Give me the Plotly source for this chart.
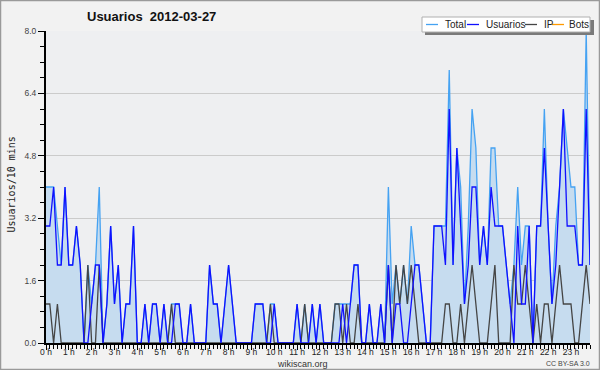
import plotly.graph_objects as go

# 10-minute slots across the day (slot index 0..143)
slots = list(range(144))

hour_ticks = [0, 6, 12, 18, 24, 30, 36, 42, 48, 54, 60, 66, 72, 78, 84, 90,
              96, 102, 108, 114, 120, 126, 132, 138]
hour_labels = ["0 h", "1 h", "2 h", "3 h", "4 h", "5 h", "6 h", "7 h", "8 h", "9 h",
               "10 h", "11 h", "12 h", "13 h", "14 h", "15 h", "16 h", "17 h", "18 h",
               "19 h", "20 h", "21 h", "22 h", "23 h"]

y_ticks = [0, 1.6, 3.2, 4.8, 6.4, 8.0]
y_labels = ["0.0", "1.6", "3.2", "4.8", "6.4", "8.0"]

usuarios = [3, 3, 4, 2, 2, 4, 2, 2, 3, 2, 0, 0, 1, 2, 2, 0, 1, 3, 1, 2, 0, 1, 1, 3, 0,
            0, 1, 0, 1, 1, 0, 1, 0, 0, 1, 1, 0, 0, 1, 0, 0, 0, 0, 2, 1, 1, 0, 1, 2, 1,
            0, 0, 0, 0, 0, 1, 1, 1, 0, 0, 1, 0, 0, 0, 0, 0, 1, 0, 0, 0, 1, 0, 1, 0, 0,
            0, 0, 0, 1, 0, 1, 2, 2, 0, 0, 1, 0, 0, 1, 0, 2, 0, 1, 1, 0, 0, 1, 2, 2, 1,
            0, 0, 3, 3, 3, 2, 6, 2, 5, 3, 1, 2, 4, 4, 2, 3, 2, 4, 3, 3, 3, 2, 1, 0, 3,
            1, 1, 3, 0, 3, 3, 5, 3, 1, 2, 4, 6, 3, 3, 3, 2, 2, 6, 2]

ip = [1, 1, 0, 1, 0, 0, 0, 0, 0, 0, 0, 2, 0, 0, 2, 0, 0, 0, 0, 0, 0, 0, 0, 0, 0,
      0, 0, 0, 0, 0, 0, 0, 0, 1, 0, 0, 0, 0, 0, 0, 0, 0, 0, 0, 0, 0, 0, 0, 0, 0,
      0, 0, 0, 0, 0, 0, 0, 0, 0, 1, 0, 0, 0, 0, 0, 0, 0, 0, 1, 0, 0, 0, 0, 0, 0,
      0, 1, 1, 0, 1, 0, 0, 1, 0, 0, 0, 0, 0, 0, 0, 2, 0, 2, 1, 2, 1, 2, 1, 0, 0,
      0, 0, 0, 0, 0, 1, 1, 0, 0, 1, 0, 1, 2, 1, 0, 0, 0, 1, 2, 0, 0, 0, 0, 2, 1,
      1, 2, 1, 0, 1, 0, 1, 1, 0, 1, 2, 1, 1, 1, 0, 0, 1, 2, 1]

total = [4, 4, 4, 3, 2, 4, 2, 2, 3, 2, 0, 2, 1, 2, 4, 0, 1, 3, 1, 2, 0, 1, 1, 3, 0,
         0, 1, 0, 1, 1, 0, 1, 0, 1, 1, 1, 0, 0, 1, 0, 0, 0, 0, 2, 1, 1, 0, 1, 2, 1,
         0, 0, 0, 0, 0, 1, 1, 1, 0, 1, 1, 0, 0, 0, 0, 0, 1, 0, 1, 0, 1, 0, 1, 0, 0,
         0, 1, 1, 1, 1, 1, 2, 2, 0, 0, 1, 0, 0, 1, 0, 4, 1, 2, 1, 2, 1, 3, 2, 2, 1,
         0, 0, 3, 3, 3, 3, 7, 2, 5, 4, 1, 3, 6, 5, 2, 3, 2, 5, 5, 3, 3, 2, 1, 2, 4,
         2, 3, 3, 0, 3, 3, 6, 3, 1, 3, 4, 6, 5, 4, 4, 2, 2, 8, 2]

bots = [0] * 144

# pixel helpers (plot area: x 46..590, y 31..343)
L, R, T, B = 46, 590, 31, 343
def px(x):
    return (x - L) / (R - L)
def py(y):
    return (B - y) / (B - T)

fig = go.Figure()
fig.add_trace(go.Scatter(x=slots, y=bots, mode="lines", name="Bots",
                         line=dict(color="#ff9900", width=1)))
fig.add_trace(go.Scatter(x=slots, y=total, mode="lines", name="Total",
                         line=dict(color="#45a2f2", width=1.3),
                         fill="tozeroy", fillcolor="#c6dcef"))
fig.add_trace(go.Scatter(x=slots, y=ip, mode="lines", name="IP",
                         line=dict(color="#454545", width=1.3)))
fig.add_trace(go.Scatter(x=slots, y=usuarios, mode="lines", name="Usuarios",
                         line=dict(color="#1010ff", width=1.3)))

shapes = []
# outer border
shapes.append(dict(type="rect", xref="paper", yref="paper",
                   x0=px(0.5), x1=px(599.5), y0=py(369.5), y1=py(0.5),
                   line=dict(color="#9a9a9a", width=1.5), layer="below"))
# legend shadow + box
shapes.append(dict(type="rect", xref="paper", yref="paper",
                   x0=px(425), x1=px(594), y0=py(35), y1=py(20),
                   line=dict(width=0), fillcolor="#7a7a7a"))
shapes.append(dict(type="rect", xref="paper", yref="paper",
                   x0=px(422), x1=px(590), y0=py(32), y1=py(17),
                   line=dict(color="#b0b0b0", width=1), fillcolor="#ffffff"))

legend_items = [("Total", "#45a2f2", 426, 443),
                ("Usuarios", "#1010ff", 467, 484),
                ("IP", "#454545", 525, 542),
                ("Bots", "#ff9900", 552, 567)]
annotations = []
for name, col, lx, tx in legend_items:
    shapes.append(dict(type="line", xref="paper", yref="paper",
                       x0=px(lx), x1=px(lx + 12), y0=py(24.5), y1=py(24.5),
                       line=dict(color=col, width=1.3)))
    annotations.append(dict(text=name, xref="paper", yref="paper",
                            x=px(tx), y=py(24.5), xanchor="left", yanchor="middle",
                            showarrow=False,
                            font=dict(family="Liberation Sans", size=10, color="#222")))

annotations.append(dict(text="<b>Usuarios\u00a0\u00a02012-03-27</b>", xref="paper", yref="paper",
                        x=px(85), y=py(16.5), xanchor="left", yanchor="middle",
                        showarrow=False,
                        font=dict(family="Liberation Sans", size=13, color="#111")))
annotations.append(dict(text="Usuarios/10 mins", xref="paper", yref="paper",
                        x=px(10.5), y=py(185), xanchor="center", yanchor="middle",
                        textangle=-90, showarrow=False,
                        font=dict(family="DejaVu Sans Mono", size=10, color="#222")))
annotations.append(dict(text="wikiscan.org", xref="paper", yref="paper",
                        x=px(302), y=py(363.5), xanchor="center", yanchor="middle",
                        showarrow=False,
                        font=dict(family="Liberation Sans", size=9, color="#333")))
annotations.append(dict(text="CC BY-SA 3.0", xref="paper", yref="paper",
                        x=px(592), y=py(363.5), xanchor="right", yanchor="middle",
                        showarrow=False,
                        font=dict(family="Liberation Sans", size=7, color="#444")))

fig.update_layout(
    width=600, height=370,
    margin=dict(l=L, r=600 - R, t=T, b=370 - B),
    paper_bgcolor="#f2f2f2", plot_bgcolor="#eeeff1",
    showlegend=False,
    shapes=shapes, annotations=annotations,
    xaxis=dict(range=[0, 143], tickmode="array", tickvals=hour_ticks, ticktext=hour_labels,
               ticks="outside", ticklen=5, tickwidth=1, tickcolor="#000",
               ticklabelstandoff=-5,
               showline=True, linecolor="#000", linewidth=2,
               showgrid=False, zeroline=False,
               tickfont=dict(family="Liberation Sans", size=8.5, color="#222"),
               minor=dict(dtick=1, ticks="outside", ticklen=4, tickcolor="#000", tickwidth=1,
                          showgrid=False)),
    yaxis=dict(range=[0, 8], tickmode="array", tickvals=y_ticks, ticktext=y_labels,
               ticks="outside", ticklen=6, tickwidth=1, tickcolor="#000",
               showline=True, linecolor="#000", linewidth=2,
               showgrid=True, gridcolor="#cbcbcb", gridwidth=1, zeroline=False,
               tickfont=dict(family="Liberation Sans", size=8.5, color="#444"),
               minor=dict(dtick=0.4, ticks="outside", ticklen=4, tickcolor="#000", tickwidth=1,
                          showgrid=False)),
)

fig.write_html("out.html")
